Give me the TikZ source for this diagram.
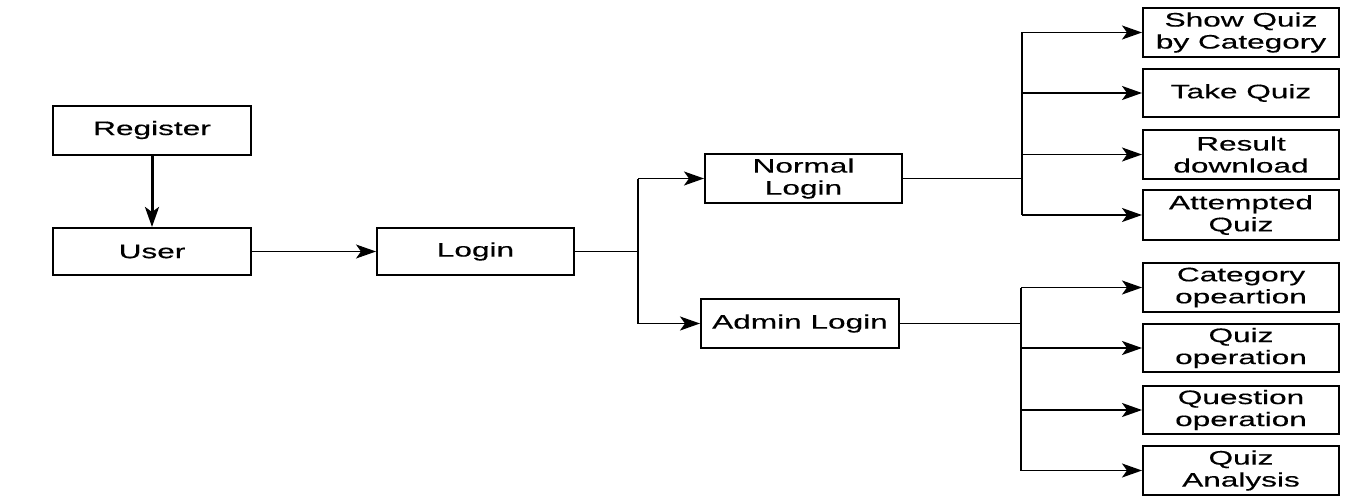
\documentclass[tikz,border=0pt]{standalone}
\usepackage{fontspec}
\setmainfont{Liberation Sans}[FakeStretch=1.62,FakeBold=0.4]
\usetikzlibrary{arrows.meta}
\begin{document}
\begin{tikzpicture}[x=1pt,y=-1pt,
  box/.style={draw=black,line width=2pt,rectangle,inner sep=0pt,align=center,
    font=\fontsize{19.5}{22}\selectfont,minimum width=#1},
  box/.default=197pt,
  conn/.style={line width=1.2pt},
  arr/.style={line width=1.8pt,-{Stealth[length=20pt,width=14pt,inset=5pt]}}]
\useasboundingbox[fill=white] (0,0) rectangle (1346,503);
% left part
\node[box=198pt,minimum height=49pt] (reg) at (152,130) {Register};
\node[box=198pt,minimum height=47pt] (user) at (152,251.5) {User};
\node[box=197pt,minimum height=47pt] (login) at (475.5,251.5) {Login};
\node[box=197pt,minimum height=49pt] (normal) at (803.5,178.5) {Normal\\Login};
\node[box=198pt,minimum height=49pt] (admin) at (800,323.5) {Admin Login};
% right boxes
\node[box=196pt,minimum height=49pt] (sq) at (1241,32.5) {Show Quiz\\by Category};
\node[box=196pt,minimum height=48pt] (tq) at (1241,93) {Take Quiz};
\node[box=196pt,minimum height=49pt] (rd) at (1241,154.5) {Result\\download};
\node[box=196pt,minimum height=50pt] (aq) at (1241,215) {Attempted\\Quiz};
\node[box=196pt,minimum height=49pt] (co) at (1241,287.5) {Category\\opeartion};
\node[box=196pt,minimum height=48pt] (qo) at (1241,348) {Quiz\\operation};
\node[box=196pt,minimum height=48pt] (qno) at (1241,410) {Question\\operation};
\node[box=196pt,minimum height=49pt] (qa) at (1241,470.5) {Quiz\\Analysis};
% junctions
\coordinate (j1) at (638,251.5);
\coordinate (j1t) at (638,178.5);
\coordinate (j1b) at (638,323.5);
\coordinate (j2) at (1022,178.5);
\coordinate (j2t) at (1022,32.5);
\coordinate (j2b) at (1022,215);
\coordinate (j3) at (1021,323.5);
\coordinate (j3t) at (1021,287.5);
\coordinate (j3b) at (1021,470.5);
% connectors
\draw[arr,line width=3pt] (reg.south) -- (user.north);
\draw[arr,line width=1pt] (user.east) -- (login.west);
\draw[conn] (login.east) -- (j1);
\draw[line width=2pt] (j1t) -- (j1b);
\draw[arr] (j1t) -- (normal.west);
\draw[arr] (j1b) -- (admin.west);
\draw[conn] (normal.east) -- (j2);
\draw[line width=2.2pt] (j2t) -- (j2b);
\draw[arr] (j2t) -- (sq.west);
\draw[arr] (j2 |- tq.west) -- (tq.west);
\draw[arr] (j2 |- rd.west) -- (rd.west);
\draw[arr] (j2b) -- (aq.west);
\draw[conn] (admin.east) -- (j3);
\draw[line width=2.2pt] (j3t) -- (j3b);
\draw[arr] (j3t) -- (co.west);
\draw[arr] (j3 |- qo.west) -- (qo.west);
\draw[arr] (j3 |- qno.west) -- (qno.west);
\draw[arr] (j3b) -- (qa.west);
\end{tikzpicture}
\end{document}
